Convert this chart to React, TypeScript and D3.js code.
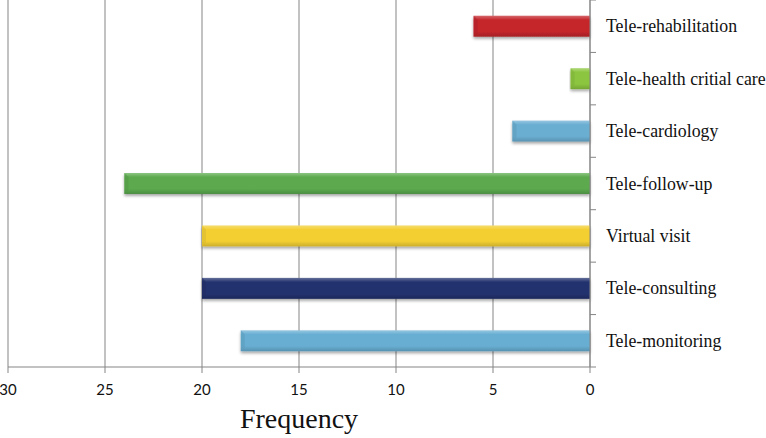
import React from "react";
import * as d3 from "d3";

const categories = [
  "Tele-rehabilitation",
  "Tele-health critial care",
  "Tele-cardiology",
  "Tele-follow-up",
  "Virtual visit",
  "Tele-consulting",
  "Tele-monitoring",
];
const values = [6, 1, 4, 24, 20, 20, 18];
const colors = ["#C4262C", "#8CC63F", "#6AAED2", "#5BAA4E", "#F3CF33", "#23326E", "#68AED2"];
const xTicks = [30, 25, 20, 15, 10, 5, 0];
const axisTitle = "Frequency";

const W = 766;
const H = 438;
const left = 8;
const right = 590;
const top = 0;
const bottom = 367;

export default function App() {
  const x = d3.scaleLinear().domain([30, 0]).range([left, right]);
  const y = d3.scaleBand<string>().domain(categories).range([top, bottom]).paddingInner(0.6).paddingOuter(0.3);
  const boundaries = d3.range(categories.length + 1).map((i) => top + i * ((bottom - top) / categories.length));

  return (
    <svg width={W} height={H} style={{ position: "absolute", left: 0, top: 0, background: "#fff" }}>
      <defs>
        {colors.map((c, i) => {
          const base = d3.color(c)!;
          const hi = d3.interpolateRgb(c, "#ffffff")(0.3);
          const lo = (d3.color(c) as d3.RGBColor).darker(0.5).formatHex();
          return (
            <linearGradient key={i} id={`g${i}`} x1="0" y1="0" x2="0" y2="1">
              <stop offset="0" stopColor={hi} />
              <stop offset="0.2" stopColor={base.formatHex()} />
              <stop offset="0.75" stopColor={base.formatHex()} />
              <stop offset="1" stopColor={lo} />
            </linearGradient>
          );
        })}
        <filter id="sh" x="-5%" y="-20%" width="110%" height="160%">
          <feGaussianBlur in="SourceAlpha" stdDeviation="1.5" />
          <feOffset dx="0" dy="2" result="b" />
          <feComponentTransfer>
            <feFuncA type="linear" slope="0.35" />
          </feComponentTransfer>
          <feMerge>
            <feMergeNode />
            <feMergeNode in="SourceGraphic" />
          </feMerge>
        </filter>
      </defs>

      {xTicks.map((t) => (
        <line key={t} x1={x(t)} x2={x(t)} y1={top} y2={bottom} stroke="#858585" strokeWidth={1} />
      ))}

      {categories.map((c, i) => {
        const y0 = y(c)!;
        const bw = y.bandwidth();
        const x0 = x(values[i]);
        const x1 = x(0);
        return (
          <g key={c} filter="url(#sh)">
            <rect x={x0} y={y0} width={x1 - x0} height={bw} fill={`url(#g${i})`} />
            <polygon
              points={`${x0},${y0} ${x0 + 4},${y0 + 4} ${x0 + 4},${y0 + bw - 4} ${x0},${y0 + bw}`}
              fill={d3.color(colors[i])!.darker(0.3).formatHex()}
              opacity={0.6}
            />
          </g>
        );
      })}

      <line x1={left} x2={right} y1={bottom} y2={bottom} stroke="#858585" />
      <line x1={right} x2={right} y1={top} y2={bottom} stroke="#858585" />
      {boundaries.map((b, i) => (
        <line key={i} x1={right} x2={right + 6} y1={b} y2={b} stroke="#858585" />
      ))}
      {xTicks.map((t) => (
        <line key={t} x1={x(t)} x2={x(t)} y1={bottom} y2={bottom + 6} stroke="#858585" />
      ))}
      {xTicks.map((t) => (
        <text key={t} x={x(t)} y={395} textAnchor="middle" fontFamily="Lato, 'Open Sans', sans-serif" fontSize={15} fill="#111">
          {t}
        </text>
      ))}
      {categories.map((c) => (
        <text
          key={c}
          x={606}
          y={y(c)! + y.bandwidth() / 2}
          dominantBaseline="central"
          fontFamily="'Liberation Serif', 'Times New Roman', serif"
          fontSize={17.8}
          fill="#111"
        >
          {c}
        </text>
      ))}
      <text x={299} y={428} textAnchor="middle" fontFamily="'Liberation Serif', 'Times New Roman', serif" fontSize={28} fill="#111">
        {axisTitle}
      </text>
    </svg>
  );
}
